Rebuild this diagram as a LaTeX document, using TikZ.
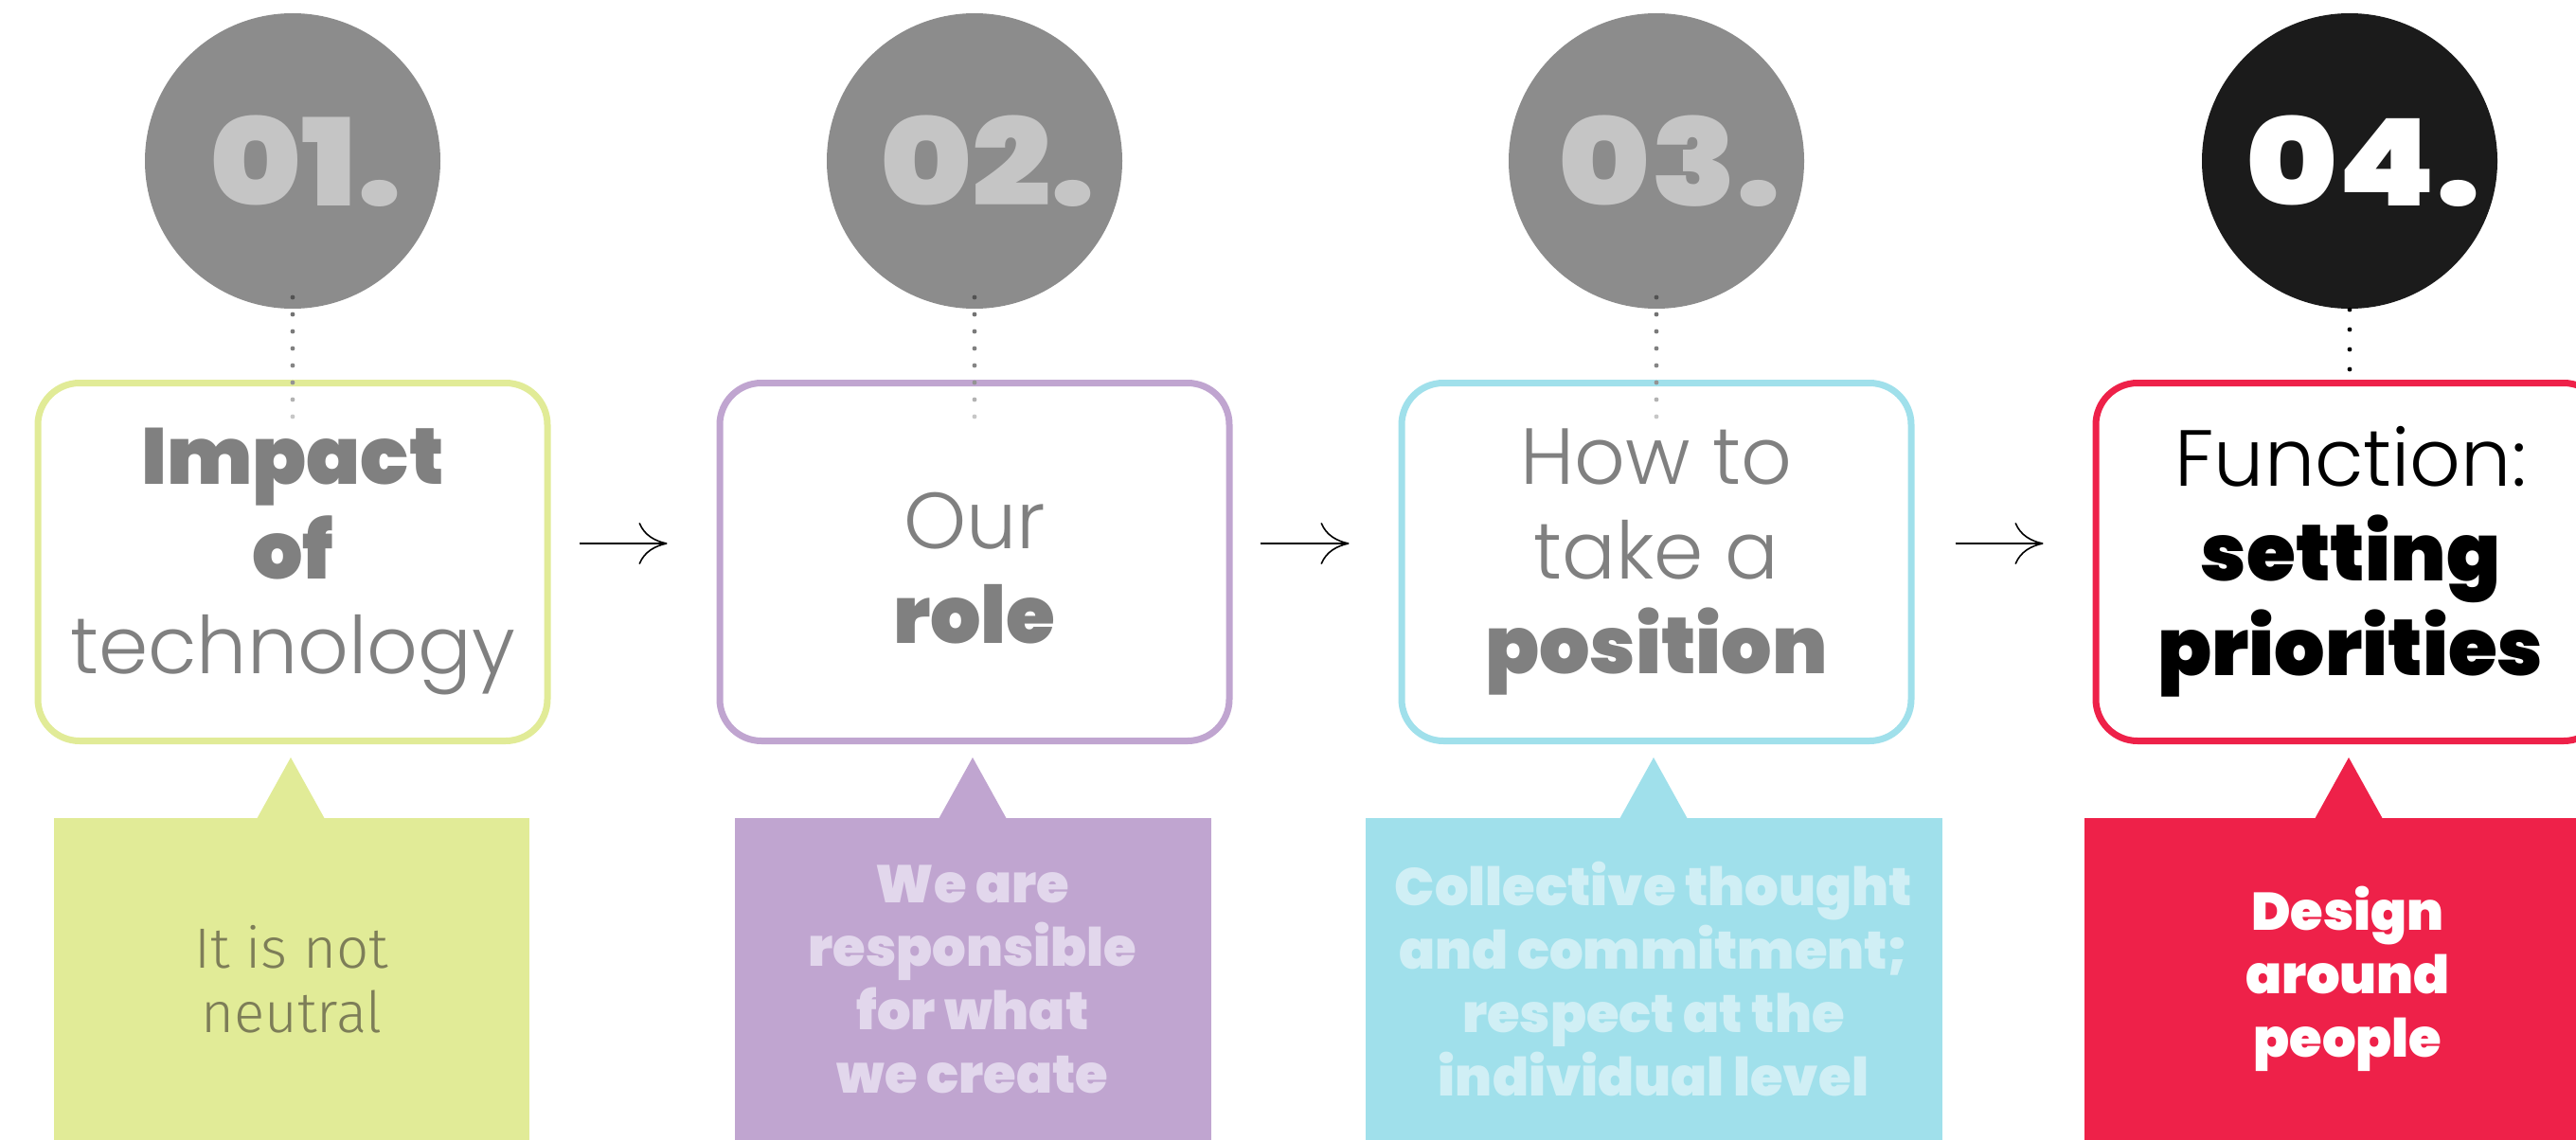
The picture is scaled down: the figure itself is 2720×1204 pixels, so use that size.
\documentclass[tikz,border=0pt]{standalone}
\usepackage{fontspec}
\usetikzlibrary{arrows.meta}
\IfFontExistsTF{Poppins Black}{\newfontfamily\fblk{Poppins Black}\newfontfamily\fnum{Poppins Black}[FakeStretch=1.15]}{\IfFontExistsTF{Poppins ExtraBold}{\newfontfamily\fblk{Poppins ExtraBold}\newfontfamily\fnum{Poppins ExtraBold}[FakeStretch=1.15]}{\newfontfamily\fblk{Poppins}[FakeBold=2]\newfontfamily\fnum{Poppins}[FakeBold=2]}}
\IfFontExistsTF{Poppins Light}{\newfontfamily\flgt{Poppins Light}}{\IfFontExistsTF{Poppins ExtraLight}{\newfontfamily\flgt{Poppins ExtraLight}}{\newfontfamily\flgt{Poppins}}}
\IfFontExistsTF{Fira Sans Light}{\newfontfamily\fthin{Fira Sans Light}}{\IfFontExistsTF{Lato Light}{\newfontfamily\fthin{Lato Light}}{\newfontfamily\fthin{Open Sans}}}
\definecolor{cgray}{HTML}{8C8C8C}
\definecolor{numlight}{HTML}{C5C5C5}
\definecolor{cblack}{HTML}{1B1B1B}
\definecolor{tgray}{HTML}{808080}
\definecolor{cgreen}{HTML}{E1EB97}
\definecolor{cpurple}{HTML}{C0A5D0}
\definecolor{ccyan}{HTML}{A0E0EB}
\definecolor{cred}{HTML}{EE2149}
\definecolor{olivet}{HTML}{7D7D58}
\definecolor{lavt}{HTML}{E2D7EC}
\definecolor{cyant}{HTML}{D0EFF5}
\begin{document}
\begin{tikzpicture}[x=0.5pt,y=-0.5pt,
  numc/.style={circle, fill=cgray, minimum size=156pt, inner sep=0pt},
  numtext/.style={inner sep=0pt, text=numlight, font=\fnum\fontsize{64}{64}\selectfont},
  stepbox/.style={rectangle, rounded corners=22pt, draw, line width=3.5pt, fill=white,
    minimum width=269pt, minimum height=189pt, inner sep=0pt},
  boxtext/.style={align=center, inner sep=0pt, font=\fontsize{42}{50}\selectfont},
  callout/.style={rectangle, minimum height=170pt, align=center, inner sep=0pt,
    font=\fblk\fontsize{28}{33.5}\selectfont},
  flow/.style={line width=0.9pt, -{Computer Modern Rightarrow[length=15pt,width=22pt,line width=0.8pt]}}]
\path[use as bounding box] (0,0) rectangle (2720,1204);
\clip (0,0) rectangle (2720,1204);

% number circles
\node[numc] (n1) at (309,170) {};
\node[numc] (n2) at (1029,170) {};
\node[numc] (n3) at (1749,170) {};
\node[numc, fill=cblack] (n4) at (2481,170) {};
\node[numtext] (m1) at ([xshift=7pt]n1.center) {01.};
\node[numtext] (m2) at ([xshift=7pt]n2.center) {02.};
\node[numtext] (m3) at ([xshift=7pt]n3.center) {03.};
\node[numtext, text=white] (m4) at ([xshift=7pt]n4.center) {04.};

% boxes
\node[stepbox, draw=cgreen] (b1) at (309,593.5) {};
\node[stepbox, draw=cpurple] (b2) at (1029,593.5) {};
\node[stepbox, draw=ccyan] (b3) at (1749,593.5) {};
\node[stepbox, draw=cred] (b4) at (2482,593.5) {};
\node[boxtext, text=tgray] (t1) at (b1.center)
  {{\fblk Impact}\\{\fblk of}\\{\flgt technology}};
\node[boxtext, text=tgray] (t2) at ([yshift=-3.5pt]b2.center)
  {{\flgt Our}\\{\fblk role}};
\node[boxtext, text=tgray] (t3) at (b3.center)
  {{\flgt How to}\\{\flgt take a}\\{\fblk position}};
\node[boxtext, text=black] (t4) at (b4.center)
  {{\flgt Function:}\\{\fblk setting}\\{\fblk priorities}};

% dotted links
\foreach \cx in {309,1029,1749}{
  \foreach \k/\p in {0/68,1/55,2/52,3/50,4/48,5/42,6/30,7/22}{
    \fill[black!\p] (\cx,314+18*\k) circle[radius=1.2pt];
  }
}
\foreach \k in {0,1,2,3}{
  \fill[black] (2481,327+21*\k) circle[radius=1.2pt];
}

% arrows
\draw[flow, shorten <=15pt, shorten >=26pt] ([yshift=9.75pt]b1.east) -- ([yshift=9.75pt]b2.west);
\draw[flow, shorten <=14.5pt, shorten >=26pt] ([yshift=9.75pt]b2.east) -- ([yshift=9.75pt]b3.west);
\draw[flow, shorten <=21.5pt, shorten >=26pt] ([yshift=9.75pt]b3.east) -- ([yshift=9.75pt]b4.west);

% callouts
\node[callout, fill=cgreen, text=olivet, minimum width=251pt,
  font=\fthin\fontsize{30}{34}\selectfont] (k1) at (308,1034) {It is not\\neutral};
\node[callout, fill=cpurple, text=lavt, minimum width=251.5pt] (k2) at (1027,1034)
  {We are\\responsible\\for what\\we create};
\node[callout, fill=ccyan, text=cyant, minimum width=304.5pt] (k3) at (1746,1034)
  {Collective thought\\and commitment;\\respect at the\\individual level};
\node[callout, fill=cred, text=white, minimum width=278pt] (k4) at (2479,1034)
  {Design\\around\\people};
\foreach \k/\col/\ax in {k1/cgreen/307,k2/cpurple/1027,k3/ccyan/1746,k4/cred/2480}{
  \fill[\col] (\ax-36,865) -- (\ax,800) -- (\ax+36,865) -- cycle;
}
\end{tikzpicture}
\end{document}
